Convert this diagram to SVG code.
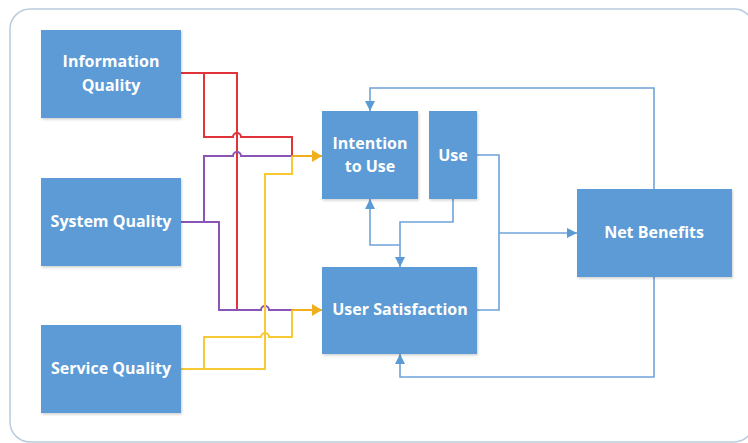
<svg xmlns="http://www.w3.org/2000/svg" width="748" height="443" viewBox="0 0 748 443">
<style>
.box{fill:#5B9BD5;filter:url(#sh)}
.lbl{font-family:"Open Sans","Noto Sans","DejaVu Sans",sans-serif;font-weight:bold;font-size:16px;fill:#ffffff;text-anchor:middle}
.c{fill:none;stroke-width:2}
.red{stroke:#E0343A}
.pur{stroke:#8A55B5}
.yel{stroke:#F7C935}
.org{stroke:#F0B01E}
.blu{fill:none;stroke:#6FA3D8;stroke-width:1.6}
</style>
<defs>
<filter id="sh" x="-10%" y="-10%" width="125%" height="125%">
<feDropShadow dx="1" dy="1.5" stdDeviation="1.2" flood-color="#000" flood-opacity="0.18"/>
</filter>
<marker id="ab" markerUnits="userSpaceOnUse" markerWidth="12" markerHeight="12" refX="10" refY="5" orient="auto">
<path d="M0,0 L10,5 L0,10 Z" fill="#5B9BD5"/>
</marker>
<marker id="ao" markerUnits="userSpaceOnUse" markerWidth="12" markerHeight="14" refX="10" refY="6" orient="auto">
<path d="M0,0 L10,6 L0,12 Z" fill="#F0B01E"/>
</marker>
</defs>
<rect x="0" y="0" width="748" height="443" fill="#ffffff"/>
<rect x="10" y="9" width="744" height="433" rx="20" fill="none" stroke="#B9CCDD" stroke-width="1.5"/>

<g id="connectors">
<path class="c red" d="M181,73 H237 V310"/>
<path class="c red" d="M204,73 V137 H233 a4,4 0 0 1 8,0 H292 V156"/>
<path class="c pur" d="M181,222 H219 V310 H261 a4,4 0 0 1 8,0 H292"/>
<path class="c pur" d="M204,222 V156 H233 a4,4 0 0 1 8,0 H292"/>
<path class="c yel" d="M181,369 H265 V174 H292 V156"/>
<path class="c yel" d="M204,369 V337 H261 a4,4 0 0 1 8,0 H292 V310"/>
<path class="c org" d="M292,156 H322" marker-end="url(#ao)"/>
<path class="c org" d="M292,310 H322" marker-end="url(#ao)"/>
<path class="blu" d="M654,189 V88 H370 V111" marker-end="url(#ab)"/>
<path class="blu" d="M654,277 V377 H400 V354" marker-end="url(#ab)"/>
<path class="blu" d="M477,155 H499 V310 H477"/>
<path class="blu" d="M499,233 H577" marker-end="url(#ab)"/>
<path class="blu" d="M453,199 V222 H400 V267" marker-end="url(#ab)"/>
<path class="blu" d="M400,245 H370 V199" marker-end="url(#ab)"/>
</g>

<g id="info-quality">
<rect class="box" x="41" y="30" width="140" height="88"/>
<text class="lbl" x="111" y="67">Information</text>
<text class="lbl" x="111" y="91">Quality</text>
</g>
<g id="system-quality">
<rect class="box" x="41" y="178" width="140" height="88"/>
<text class="lbl" x="111" y="227">System Quality</text>
</g>
<g id="service-quality">
<rect class="box" x="41" y="325" width="140" height="88"/>
<text class="lbl" x="111" y="374">Service Quality</text>
</g>
<g id="intention-to-use">
<rect class="box" x="322" y="111" width="96" height="88"/>
<text class="lbl" x="370" y="149">Intention</text>
<text class="lbl" x="370" y="172">to Use</text>
</g>
<g id="use">
<rect class="box" x="429" y="111" width="48" height="88"/>
<text class="lbl" x="453" y="161">Use</text>
</g>
<g id="user-satisfaction">
<rect class="box" x="322" y="267" width="155" height="87"/>
<text class="lbl" x="400" y="315">User Satisfaction</text>
</g>
<g id="net-benefits">
<rect class="box" x="577" y="189" width="155" height="88"/>
<text class="lbl" x="654" y="238">Net Benefits</text>
</g>
</svg>
